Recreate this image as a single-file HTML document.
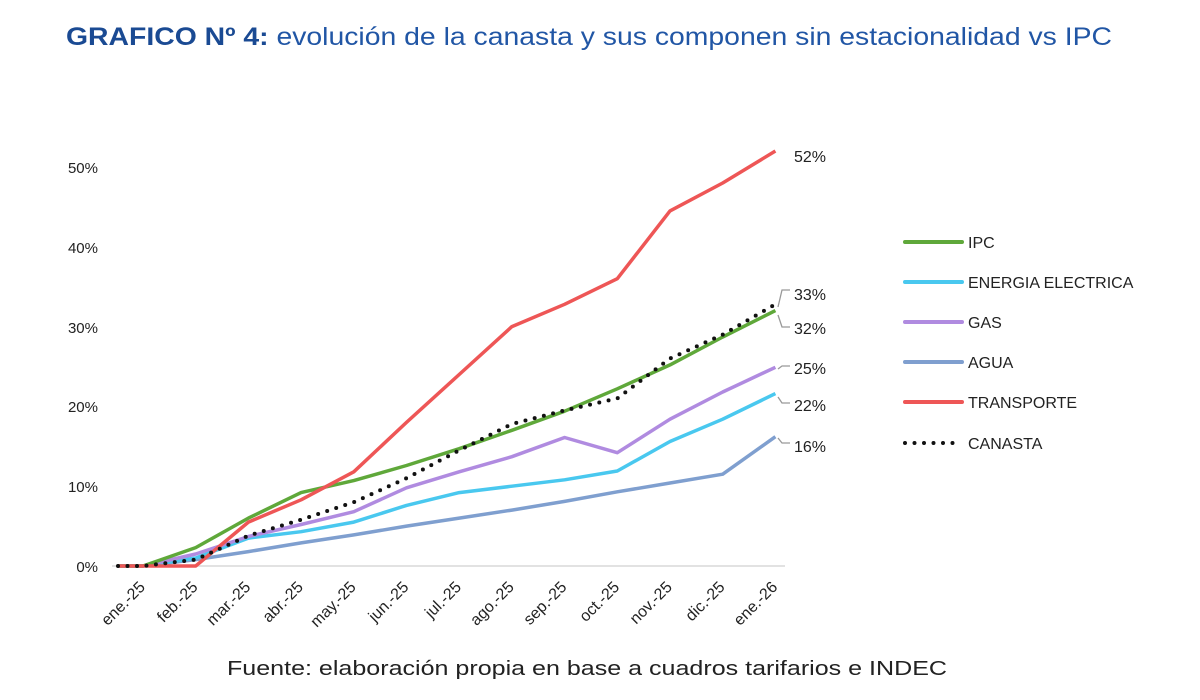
<!DOCTYPE html>
<html><head><meta charset="utf-8"><style>
html,body{margin:0;padding:0;background:#fff;}
svg{display:block;font-family:"Liberation Sans",sans-serif;}
</style></head><body>
<svg id="s" width="1200" height="700" viewBox="0 0 1200 700">
<text x="66" y="45" font-size="25" fill="#2156a5" textLength="1046" lengthAdjust="spacingAndGlyphs"><tspan font-weight="bold" fill="#1a4a93">GRAFICO Nº 4:</tspan> evolución de la canasta y sus componen sin estacionalidad vs IPC</text>
<line x1="112" y1="566" x2="785" y2="566" stroke="#d9d9d9" stroke-width="1.5"/>
<g font-size="15" fill="#222" text-anchor="end">
<text x="98" y="572">0%</text><text x="98" y="492">10%</text><text x="98" y="412">20%</text>
<text x="98" y="333">30%</text><text x="98" y="253">40%</text><text x="98" y="173">50%</text>
</g>
<g id="xl" font-size="16" fill="#222" text-anchor="end"></g>
<g id="lines"></g>
<g font-size="16" fill="#222">
<line x1="905" y1="242" x2="962" y2="242" stroke="#5fa83a" stroke-width="4" stroke-linecap="round"/><text x="968" y="248">IPC</text>
<line x1="905" y1="282" x2="962" y2="282" stroke="#49c8ef" stroke-width="4" stroke-linecap="round"/><text x="968" y="288">ENERGIA ELECTRICA</text>
<line x1="905" y1="322" x2="962" y2="322" stroke="#b08be0" stroke-width="4" stroke-linecap="round"/><text x="968" y="328">GAS</text>
<line x1="905" y1="362" x2="962" y2="362" stroke="#7f9fcf" stroke-width="4" stroke-linecap="round"/><text x="968" y="368">AGUA</text>
<line x1="905" y1="402" x2="962" y2="402" stroke="#ee5656" stroke-width="4" stroke-linecap="round"/><text x="968" y="408">TRANSPORTE</text>
<line x1="905" y1="443" x2="962" y2="443" stroke="#111" stroke-width="4" stroke-dasharray="0 9.5" stroke-linecap="round"/><text x="968" y="449">CANASTA</text>
</g>
<g font-size="16" fill="#222">
<text x="794" y="162">52%</text>
<text x="794" y="300">33%</text><text x="794" y="334">32%</text>
<text x="794" y="374">25%</text><text x="794" y="411">22%</text><text x="794" y="452">16%</text>
</g>
<g stroke="#999" stroke-width="1.3" fill="none">
<path d="M778 307 L782 290 L790 290"/><path d="M778 315 L782 327 L790 327"/>
<path d="M778 369 L782 366 L790 366"/><path d="M778 397 L782 403 L790 403"/><path d="M778 438 L782 443 L790 443"/>
</g>
<text x="587" y="675" font-size="20" fill="#222" text-anchor="middle" textLength="720" lengthAdjust="spacingAndGlyphs">Fuente: elaboración propia en base a cuadros tarifarios e INDEC</text>
</svg>
<script>
var X=function(i){return 143+52.7*i}, Y=function(v){return 566-v*7.98};
var labs=["ene.-25","feb.-25","mar.-25","abr.-25","may.-25","jun.-25","jul.-25","ago.-25","sep.-25","oct.-25","nov.-25","dic.-25","ene.-26"];
var xl=document.getElementById('xl'),ns="http://www.w3.org/2000/svg";
labs.forEach(function(l,i){var t=document.createElementNS(ns,'text');var x=X(i)+3,y=588;t.setAttribute('x',x);t.setAttribute('y',y);t.setAttribute('transform','rotate(-45 '+x+' '+y+')');t.textContent=l;xl.appendChild(t);});
var S=[
["#7f9fcf",[0,0.8,1.8,2.9,3.9,5,6,7,8.1,9.3,10.4,11.5,16.2],0],
["#49c8ef",[0,1,3.5,4.3,5.5,7.6,9.2,10,10.8,11.9,15.6,18.4,21.6],0],
["#b08be0",[0,1.5,3.7,5.2,6.8,9.8,11.8,13.7,16.1,14.2,18.4,21.8,24.9],0],
["#5fa83a",[0,2.3,6,9.2,10.7,12.6,14.7,17,19.4,22.2,25.2,28.7,32],0],
["#ee5656",[0,0,5.5,8.3,11.8,18,24,30,32.8,36,44.5,48,52],0],
["#111",[0,0.8,3.8,5.8,8,11,14.5,17.8,19.5,21,26,29,32.8],1]];
var g=document.getElementById('lines');
S.forEach(function(s){var d="M118 566";s[1].forEach(function(v,i){d+=" L"+X(i).toFixed(1)+" "+Y(v).toFixed(1)});
var p=document.createElementNS(ns,'path');p.setAttribute('d',d);p.setAttribute('fill','none');p.setAttribute('stroke',s[0]);
if(s[2]){p.setAttribute('stroke-width','4');p.setAttribute('stroke-dasharray','0 9.5');p.setAttribute('stroke-linecap','round');}else{p.setAttribute('stroke-width','3.5');p.setAttribute('stroke-linejoin','round');}
g.appendChild(p);});
</script>
</body></html>
